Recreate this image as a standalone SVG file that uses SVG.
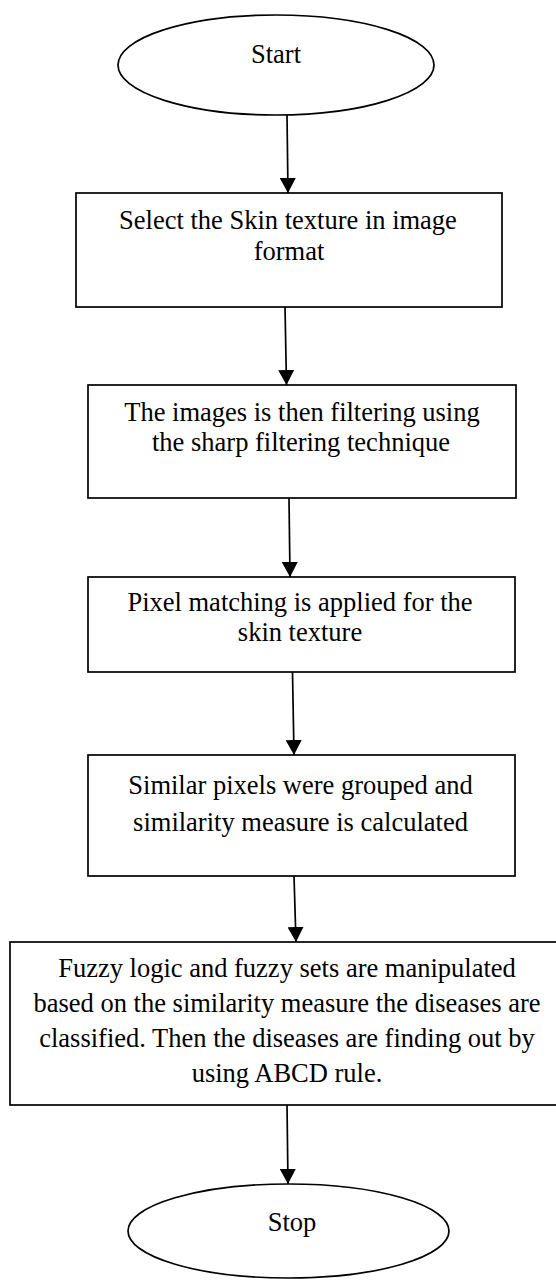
<svg xmlns="http://www.w3.org/2000/svg" width="556" height="1280" viewBox="0 0 556 1280">
<style>
.shape{fill:#fff;stroke:#000;stroke-width:1.7}
.t{font-family:"Liberation Serif","Times New Roman",serif;font-size:26.5px;fill:#000;text-anchor:middle}
.c{stroke:#000;stroke-width:1.7;fill:none;marker-end:url(#ah)}
</style>
<defs>
<marker id="ah" markerUnits="userSpaceOnUse" markerWidth="16" markerHeight="16" refX="15" refY="8" orient="auto">
<path d="M0,0 L15,8 L0,16 z" fill="#000"/>
</marker>
</defs>
<rect width="556" height="1280" fill="#fff"/>
<g id="start">
<ellipse class="shape" cx="276" cy="65" rx="158" ry="50"/>
<text class="t" x="276" y="63">Start</text>
</g>
<g id="select">
<rect class="shape" x="76" y="193" width="426" height="114"/>
<text class="t" x="288" y="229">Select the Skin texture in image</text>
<text class="t" x="289" y="260">format</text>
</g>
<g id="filter">
<rect class="shape" x="88" y="385" width="428" height="113"/>
<text class="t" x="302" y="421">The images is then filtering using</text>
<text class="t" x="301" y="451">the sharp filtering technique</text>
</g>
<g id="pixel">
<rect class="shape" x="88" y="577" width="427" height="95"/>
<text class="t" x="300" y="611">Pixel matching is applied for the</text>
<text class="t" x="300" y="641">skin texture</text>
</g>
<g id="similar">
<rect class="shape" x="88" y="755" width="427" height="121"/>
<text class="t" x="300.5" y="794">Similar pixels were grouped and</text>
<text class="t" x="300.5" y="831">similarity measure is calculated</text>
</g>
<g id="fuzzy">
<rect class="shape" x="10" y="942" width="554" height="163"/>
<text class="t" x="287" y="977">Fuzzy logic and fuzzy sets are manipulated</text>
<text class="t" x="287" y="1012">based on the similarity measure the diseases are</text>
<text class="t" x="287" y="1047">classified. Then the diseases are finding out by</text>
<text class="t" x="287" y="1082">using ABCD rule.</text>
</g>
<g id="stop">
<ellipse class="shape" cx="288.5" cy="1231" rx="160.5" ry="47"/>
<text class="t" x="292" y="1231">Stop</text>
</g>
<g id="connectors">
<path class="c" d="M287,115 L288,193"/>
<path class="c" d="M285,307 L286.5,385"/>
<path class="c" d="M289,498 L290,577"/>
<path class="c" d="M292.5,672 L294,755"/>
<path class="c" d="M294,876 L296,942"/>
<path class="c" d="M287,1105 L288,1184"/>
</g>
</svg>
